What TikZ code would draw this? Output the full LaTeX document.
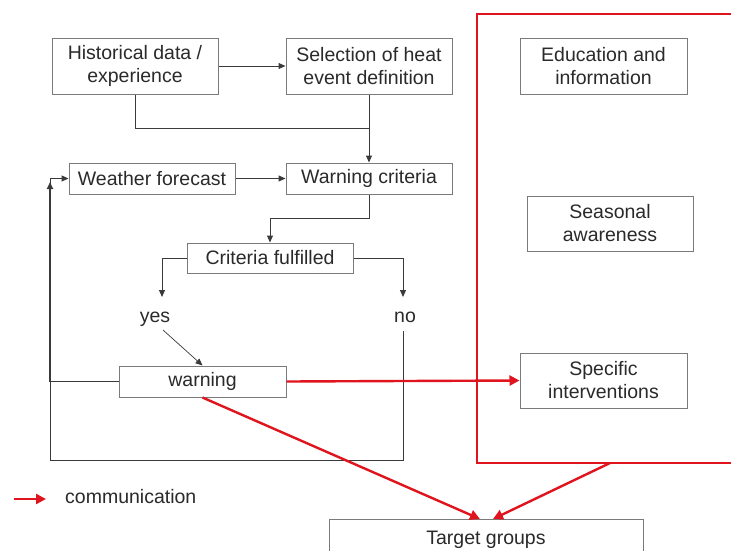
\documentclass[tikz,border=0pt]{standalone}
\usepackage{fontspec}
\setmainfont{Liberation Sans}
\usetikzlibrary{arrows.meta,calc}
\definecolor{txt}{HTML}{2A2A2A}
\definecolor{boxc}{HTML}{7A7A7A}
\definecolor{lnc}{HTML}{3A3A3A}
\definecolor{redc}{HTML}{E0141E}
\begin{document}
\begin{tikzpicture}[x=1pt,y=-1pt,
  every node/.style={font=\fontsize{19.5}{23}\selectfont, text=txt},
  box/.style={draw=boxc, line width=1pt, rectangle, align=center, inner sep=0pt},
  ln/.style={draw=lnc, line width=1pt},
  arr/.style={ln, -{Triangle[length=7pt,width=6pt]}},
  rarr/.style={draw=redc, line width=2.4pt, -{Triangle[length=10pt,width=10pt]}},
  lbl/.style={inner sep=0pt}
]
\useasboundingbox (0,0) rectangle (731,550);
\clip (0,0) rectangle (731,550);
\fill[white] (0,0) rectangle (731,550);

% nodes
\node[box, minimum width=166pt, minimum height=56pt] (hist) at (135,66) {Historical data /\\experience};
\node[box, minimum width=166pt, minimum height=56pt] (sel) at (369,66) {Selection of heat\\event definition};
\node[box, minimum width=166pt, minimum height=31pt] (wf) at (152,178.5) {Weather forecast};
\node[box, minimum width=166pt, minimum height=31pt] (wc) at (369,178.5) {Warning criteria};
\node[box, minimum width=166pt, minimum height=30pt] (cf) at (270,258) {Criteria fulfilled};
\node[lbl, anchor=base] (yes) at (155,322) {yes};
\node[lbl, anchor=base] (no) at (405,322) {no};
\node[box, minimum width=167pt, minimum height=31pt] (warn) at (202.5,381.5) {warning};
\node[box, minimum width=167pt, minimum height=56pt] (edu) at (603.5,66) {Education and\\information};
\node[box, minimum width=166pt, minimum height=55pt] (sea) at (610,223.5) {Seasonal\\awareness};
\node[box, minimum width=167pt, minimum height=55pt] (spec) at (603.5,380.5) {Specific\\interventions};
\node[box, minimum width=314pt, minimum height=60pt, anchor=north] (tg) at (486,519) {};
\node[lbl, anchor=base] (tgt) at (486,544) {Target groups};

% coordinates
\coordinate (j1) at (369,128);
\coordinate (c1) at (369,218);
\coordinate (ya) at (162,297);
\coordinate (na) at (403,297);
\coordinate (ns) at (403,331);
\coordinate (yb) at (163,330);
\coordinate (lc) at (50,178.5);
\coordinate (lup) at (50,182);
\coordinate (lb) at (50,460);
\coordinate (rb1) at (735,14);
\coordinate (rb2) at (477,14);
\coordinate (rb3) at (477,463);
\coordinate (rb4) at (735,463);
\coordinate (rbo) at (610,463);
\coordinate (tga) at (480,519);
\coordinate (tgb) at (493,519);

% black connectors
\draw[arr] (hist.east) -- (sel.west);
\draw[ln] (hist.south) |- (j1);
\draw[arr] (sel.south) -- (wc.north);
\draw[arr] (wf.east) -- (wc.west);
\draw[arr] (wc.south) -- (c1) -| (cf.north);
\draw[arr] (cf.west) -| (ya);
\draw[arr] (cf.east) -| (na);
\draw[line width=0.7pt, draw=lnc, -{Triangle[length=7pt,width=6pt]}] (yb) -- (warn.north);
\draw[ln] (ns) |- (lb) -- (lc);
\draw[ln, line width=1.6pt, -{Triangle[length=7pt,width=6pt]}] (warn.west) -| (lup);
\draw[arr] (lc) -- (wf.west);

% red frame
\draw[draw=redc, line width=2pt] (rb1) -- (rb2) -- (rb3) -- (rb4);

% red arrows
\draw[rarr] (warn.east) -- (spec.west);
\draw[rarr] (warn.south) -- (tga);
\draw[rarr] (rbo) -- (tgb);

% legend
\coordinate (lg1) at (14,499);
\coordinate (lg2) at (46,499);
\draw[rarr] (lg1) -- (lg2);
\node[lbl, anchor=west] (lgt) at (65,497) {communication};
\end{tikzpicture}
\end{document}
